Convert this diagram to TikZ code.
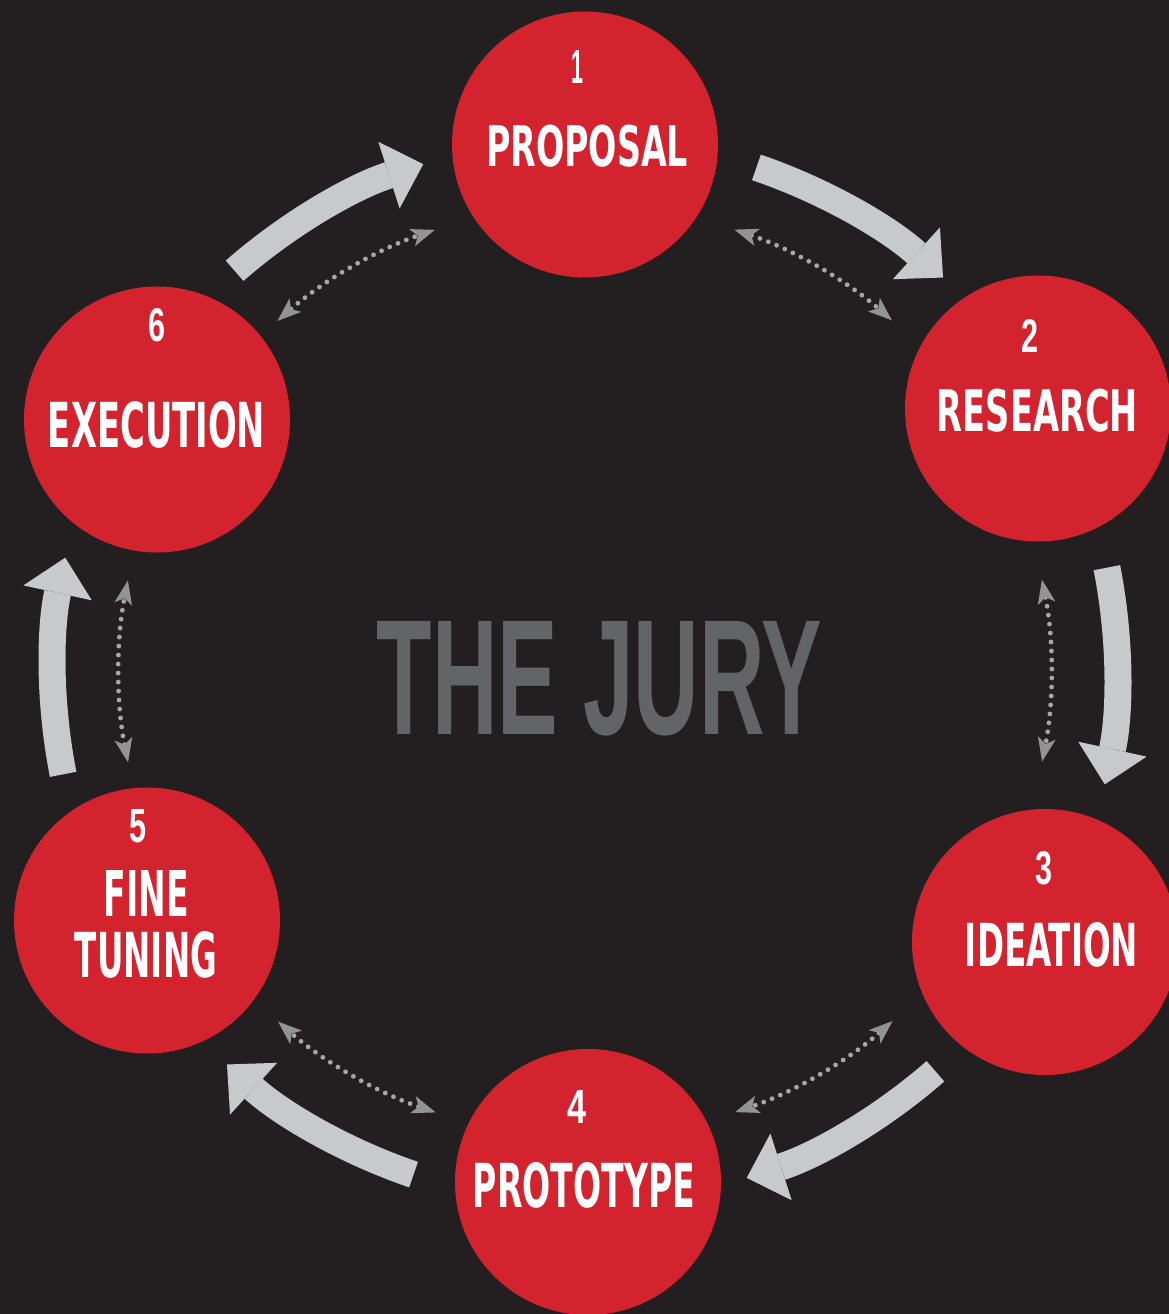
\documentclass[tikz,border=0pt]{standalone}
\usepackage{fontspec}
\usepackage{graphicx}
\setmainfont{Liberation Sans}
\newfontfamily\bb{DejaVu Sans Condensed}
\newfontfamily\dg{Liberation Sans}
\usetikzlibrary{arrows.meta}
\definecolor{bgc}{HTML}{231F20}
\definecolor{redc}{HTML}{D2232F}
\definecolor{arrowc}{HTML}{C8C9CA}
\definecolor{juryc}{HTML}{636466}
\definecolor{dotc}{HTML}{A7A7A7}
\definecolor{headc}{HTML}{939393}
\newcommand{\fitw}[3]{\resizebox{#1pt}{#2pt}{\bb\bfseries #3}}
\newcommand{\fitn}[3]{\resizebox{#1pt}{#2pt}{\dg\bfseries #3}}
\tikzset{
  stage/.style={circle, fill=redc, minimum size=266pt, inner sep=0pt},
  lbl/.style={text=white, inner sep=0pt, outer sep=0pt},
  bigarrow/.style={draw=arrowc, line width=27pt,
    -{Triangle[width=70pt,length=36pt,line width=0pt,color=arrowc,fill=arrowc]}},
  dotarrow/.style={draw=dotc, line width=4.8pt, line cap=round, dash pattern=on 0pt off 9pt,
    {Stealth[length=24pt,width=18pt,inset=6pt,line width=0pt,color=headc,fill=headc]}-{Stealth[length=24pt,width=18pt,inset=6pt,line width=0pt,color=headc,fill=headc]}},
}
\begin{document}
\begin{tikzpicture}[x=1pt,y=-1pt]
\fill[bgc] (0,0) rectangle (1169,1314);
\useasboundingbox (0,0) rectangle (1169,1314);
\coordinate (O) at (585,671);
% stages
\node[stage] (c1) at (585,144.5) {};
\node[stage] (c2) at (1038,408.5) {};
\node[stage] (c3) at (1045,942) {};
\node[stage] (c4) at (588,1182) {};
\node[stage] (c5) at (147,920.5) {};
\node[stage] (c6) at (157,419.5) {};
% labels
\node[lbl] (n1) at (577.5,66.5) {\fitn{12}{33}{1}};
\node[lbl] (t1) at (587,146.5) {\fitw{202}{41.5}{PROPOSAL}};
\node[lbl] (n2) at (1030,335.5) {\fitn{17}{33}{2}};
\node[lbl] (t2) at (1037.5,410.5) {\fitw{201}{42.5}{RESEARCH}};
\node[lbl] (n3) at (1043.5,868.5) {\fitn{17}{33}{3}};
\node[lbl] (t3) at (1051.5,944.5) {\fitw{173}{44}{IDEATION}};
\node[lbl] (n4) at (576.5,1106.5) {\fitn{19}{33}{4}};
\node[lbl] (t4) at (584,1185) {\fitw{222}{45}{PROTOTYPE}};
\node[lbl] (n5) at (137.5,826.5) {\fitn{17}{33}{5}};
\node[lbl] (t5a) at (146.5,893.5) {\fitw{85}{46}{FINE}};
\node[lbl] (t5b) at (146,955) {\fitw{142}{46}{TUNING}};
\node[lbl] (n6) at (156.5,325.5) {\fitn{17}{33}{6}};
\node[lbl] (t6) at (156.5,424.5) {\fitw{217}{46}{EXECUTION}};
\node[inner sep=0pt, text=juryc] (jury) at (599.5,678.5) {\fitn{445}{113}{THE JURY}};
% big arrows
\foreach \k in {0,...,5}{
  \path (O) ++({-71.2+60*\k}:532) coordinate (bs\k);
  \draw[bigarrow] (bs\k) arc[start angle={-71.2+60*\k}, end angle={-47.7+60*\k}, radius=532];
}
% dotted two-way arrows
\foreach \k in {0,...,5}{
  \path (O) ++({-71.3+60*\k}:466) coordinate (ds\k);
  \draw[dotarrow] (ds\k) arc[start angle={-71.3+60*\k}, end angle={-48.8+60*\k}, radius=466];
}
\end{tikzpicture}
\end{document}
